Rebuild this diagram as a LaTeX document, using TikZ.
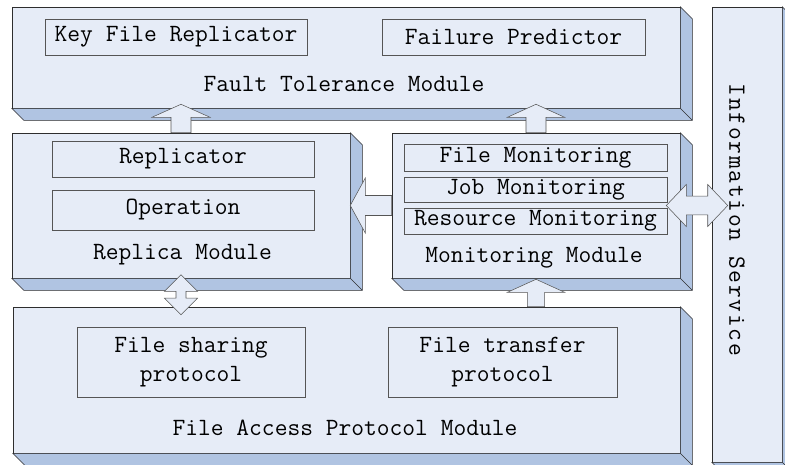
\documentclass[tikz,border=0pt]{standalone}
\usepackage{fontspec}
\setmonofont{Latin Modern Mono}
\newfontfamily\infofont{Latin Modern Mono}[LetterSpace=7]
\usetikzlibrary{calc}
\definecolor{frontcol}{HTML}{E6ECF7}
\definecolor{sidecol}{HTML}{B0C4E2}
\definecolor{edgecol}{HTML}{2E2E2E}
\definecolor{boxcol}{HTML}{555555}

% 3D slab behind a module node
\newcommand{\slab}[1]{%
\filldraw[draw=edgecol, fill=sidecol] (#1.south west) -- ([shift={(9pt,-9pt)}]#1.south west)
  -- ([shift={(9pt,-9pt)}]#1.south east) -- ([shift={(9pt,-9pt)}]#1.north east)
  -- (#1.north east) -- (#1.south east) -- cycle;
\draw[edgecol] (#1.south east) -- ([shift={(9pt,-9pt)}]#1.south east);}

% block arrows: from, to, shaft half width, head half width, head length
\newcommand{\fatarrow}[5]{%
\coordinate (fa-s) at (#1); \coordinate (fa-t) at (#2);
\coordinate (fa-h) at ($(fa-t)!#5!(fa-s)$);
\filldraw[blockarrow] ($(fa-s)!#3!90:(fa-t)$) -- ($(fa-h)!#3!90:(fa-t)$) -- ($(fa-h)!#4!90:(fa-t)$)
  -- (fa-t) -- ($(fa-h)!#4!-90:(fa-t)$) -- ($(fa-h)!#3!-90:(fa-t)$) -- ($(fa-s)!#3!-90:(fa-t)$) -- cycle;}
\newcommand{\fatdarrow}[5]{%
\coordinate (fa-s) at (#1); \coordinate (fa-t) at (#2);
\coordinate (fa-h) at ($(fa-t)!#5!(fa-s)$);
\coordinate (fa-g) at ($(fa-s)!#5!(fa-t)$);
\filldraw[blockarrow] (fa-s) -- ($(fa-g)!#4!90:(fa-t)$) -- ($(fa-g)!#3!90:(fa-t)$) -- ($(fa-h)!#3!90:(fa-t)$)
  -- ($(fa-h)!#4!90:(fa-t)$) -- (fa-t) -- ($(fa-h)!#4!-90:(fa-t)$) -- ($(fa-h)!#3!-90:(fa-t)$)
  -- ($(fa-g)!#3!-90:(fa-t)$) -- ($(fa-g)!#4!-90:(fa-t)$) -- cycle;}

\begin{document}
\begin{tikzpicture}[x=0.75pt, y=-0.75pt,
  module/.style={draw=edgecol, fill=frontcol, inner sep=0pt},
  part/.style={draw=boxcol, fill=frontcol, inner sep=0pt, minimum height=27pt, align=center,
    font=\ttfamily\fontsize{18.6}{22}\selectfont},
  modlabel/.style={inner sep=0pt, font=\ttfamily\fontsize{18.6}{22}\selectfont},
  blockarrow/.style={draw=boxcol, fill=frontcol, line join=miter}]
\path[use as bounding box, clip] (0,0) rectangle (785,464);
\fill[white] (0,0) rectangle (785,464);

% modules
\node[module, minimum width=501pt, minimum height=75.75pt] (ft) at (346,57.5) {};
\slab{ft}
\node[module, minimum width=253.5pt, minimum height=108.75pt] (rm) at (181,205.5) {};
\slab{rm}
\node[module, minimum width=216pt, minimum height=108.75pt] (mm) at (536,205.5) {};
\slab{mm}
\node[module, minimum width=500.25pt, minimum height=109.5pt] (fap) at (346.5,380) {};
\slab{fap}
\node[module, minimum width=52.5pt, minimum height=341.25pt] (is) at (747,234.5) {};
\slab{is}

% parts
\node[part, minimum width=196.5pt] (kfr) at (176,37) {Key File Replicator};
\node[part, minimum width=197.25pt] (fp) at (513.5,37) {Failure Predictor};
\node[part, minimum width=196.5pt] (rep) at (183,159) {Replicator};
\node[part, minimum width=196.5pt, minimum height=30pt] (op) at (183,210) {Operation};
\node[part, minimum width=197.25pt, minimum height=20.25pt] (fmon) at (535.5,157.5) {File Monitoring};
\node[part, minimum width=197.25pt, minimum height=18.75pt] (jmon) at (535.5,189.5) {Job Monitoring};
\node[part, minimum width=197.25pt, minimum height=19.5pt] (rmon) at (535.5,221) {Resource Monitoring};
\node[part, minimum width=171pt, minimum height=52.5pt] (fsp) at (191,362) {File sharing\\protocol};
\node[part, minimum width=171.75pt, minimum height=52.5pt] (ftp) at (502.5,362) {File transfer\\protocol};

% module names
\node[modlabel] (ftname) at (344,84) {Fault Tolerance Module};
\node[modlabel] (rmname) at (182.5,255) {Replica Module};
\node[modlabel] (mmname) at (534,257.5) {Monitoring Module};
\node[modlabel] (fapname) at (345,428) {File Access Protocol Module};
\node[modlabel, rotate=-90, font=\infofont\fontsize{18.6}{22}\selectfont] (isname) at (737,220) {Information Service};

% arrows
\coordinate (ftin1) at ($(ft.south -| rm.north)+(0pt,3pt)$);
\coordinate (ftin2) at ($(ft.south -| mm.north)+(0pt,3pt)$);
\coordinate (mmout) at ($(mm.east)+(-10.5pt,0pt)$);
\coordinate (isin) at ($(mm.east -| is.west)+(12pt,0pt)$);
\coordinate (rmout) at ($(rm.south)+(0pt,2.6pt)$);
\coordinate (fapin) at ($(rm.south |- fap.north)+(0pt,-6pt)$);
\coordinate (mmin) at ($(mm.south)+(0pt,-0.75pt)$);
\fatarrow{rm.north}{ftin1}{7.5pt}{21.75pt}{9.75pt}
\fatarrow{mm.north}{ftin2}{7.5pt}{21.4pt}{9.75pt}
\fatarrow{mm.west}{rm.east}{7.5pt}{20.6pt}{11.25pt}
\fatdarrow{mmout}{isin}{7pt}{15.75pt}{15pt}
\fatdarrow{rmout}{fapin}{3.75pt}{12.4pt}{12.4pt}
\fatarrow{fap.north -| mm.south}{mmin}{6.4pt}{21.4pt}{9.75pt}
\end{tikzpicture}
\end{document}
